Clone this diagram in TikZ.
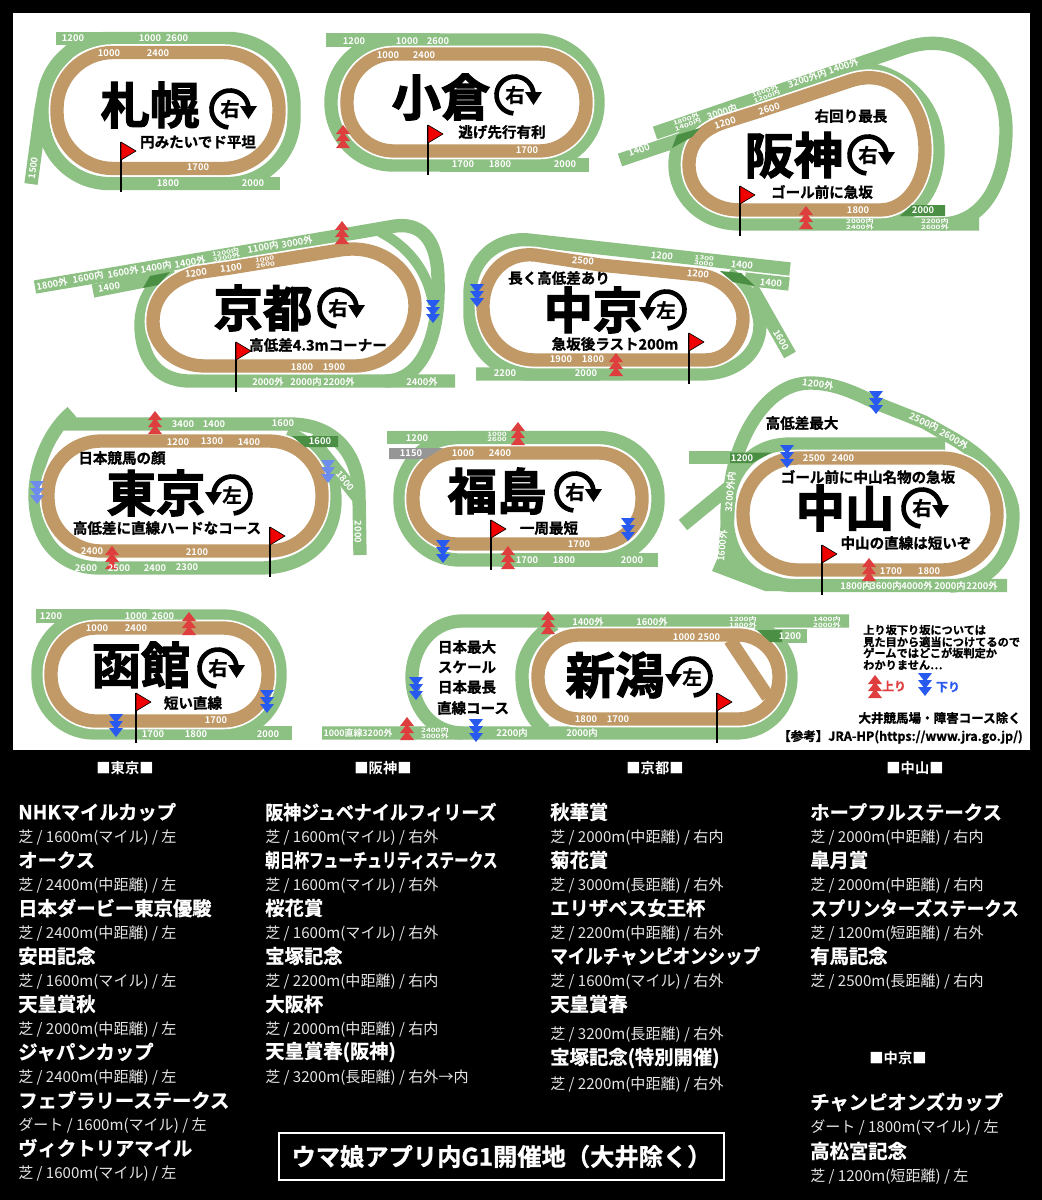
\documentclass[tikz,border=0pt]{standalone}
\usepackage{graphicx}
\usepackage{fontspec}
\setmainfont{Noto Sans CJK JP}[BoldFont=* Bold]
\newfontfamily\hv{Noto Sans CJK JP Bold}[FakeBold=2.4]
\newfontfamily\hb{Noto Sans CJK JP Bold}[FakeBold=1.0]
\definecolor{tg}{RGB}{141,192,131}
\definecolor{dk}{RGB}{74,143,68}
\definecolor{dc}{RGB}{192,153,102}
\definecolor{gy}{RGB}{150,150,150}
\definecolor{rd}{RGB}{222,62,62}
\definecolor{bl}{RGB}{40,90,240}
\definecolor{lb}{RGB}{110,140,235}
\definecolor{fr}{RGB}{240,0,0}
\tikzset{
 turf/.style={draw=tg,line width=10pt},
 turfn/.style={draw=tg,line width=7.5pt},
 dcase/.style={draw=white,line width=12.5pt},
 dband/.style={draw=dc,line width=10pt},
 lbl/.style={text=white,inner sep=0pt,font=\bfseries\fontsize{7}{7}\selectfont},
 tlb/.style={text=white,inner sep=0pt,align=center,font=\bfseries\fontsize{4.4}{4.2}\selectfont},
 bigt/.style={inner sep=0pt,font=\hv\fontsize{37}{37}\selectfont},
 subt/.style={inner sep=0pt,font=\hb\fontsize{10.9}{10.9}\selectfont},
 ctt/.style={anchor=west,text=white,inner sep=0pt,font=\hb\fontsize{14.5}{14.5}\selectfont},
 csb/.style={anchor=west,text=black!10,inner sep=0pt,font=\fontsize{11.3}{11.3}\selectfont},
 hdr/.style={text=white,inner sep=0pt,font=\bfseries\fontsize{10.7}{10.7}\selectfont},
}
\newcommand\rrect[6]{\draw[#1,rounded corners=#6*0.75pt] ({(#2+#4)/2},#3) -- (#4,#3) -- (#4,#5) -- (#2,#5) -- (#2,#3) -- cycle;}
\newcommand\drect[5]{\rrect{dcase}{#1}{#2}{#3}{#4}{#5}\rrect{dband}{#1}{#2}{#3}{#4}{#5}}
\newcommand\lab[4][0]{\node[lbl,rotate=#1] at (#2,#3) {#4};}
\newcommand\tinl[5][0]{\node[tlb,rotate=#1] at (#2,#3) {\scalebox{1.4}[1]{#4}\\\scalebox{1.4}[1]{#5}};}
\newcommand\um[3][rd]{\fill[#1] (#2,#3-11)--(#2+7,#3-2)--(#2-7,#3-2)--cycle (#2,#3-4)--(#2+7,#3+5)--(#2-7,#3+5)--cycle (#2,#3+3)--(#2+7,#3+12)--(#2-7,#3+12)--cycle;}
\newcommand\dm[3][bl]{\fill[#1] (#2,#3+11)--(#2+7,#3+2)--(#2-7,#3+2)--cycle (#2,#3+4)--(#2+7,#3-5)--(#2-7,#3-5)--cycle (#2,#3-3)--(#2+7,#3-12)--(#2-7,#3-12)--cycle;}
\newcommand\flagm[3]{\draw[black,line width=1.6pt] (#1,#2) -- (#1,#3);
 \draw[black,fill=fr,line width=0.5pt,line join=round] (#1,#2) -- (#1+15,#2+9) -- (#1,#2+18) -- cycle;}
\newcommand\turn[4]{\begin{scope}[shift={(#1,#2)},yscale=-1,xscale=#3]
 \draw[black,line width=3.5pt] (-95:18.5) arc[start angle=-95,end angle=-352,radius=18.5];
 \fill[black] (10,3) -- (27,3) -- (18.5,-10) -- cycle;
 \node[inner sep=0pt,font=\hb\fontsize{14.5}{14.5}\selectfont] at (0,0) {#4};
 \end{scope}}
\newcommand\ct[3]{\node[ctt] at (#1,#2) {#3};}
\newcommand\ctx[4]{\node[ctt] at (#1,#2) {\scalebox{#3}[1]{#4}};}
\newcommand\cs[3]{\node[csb] at (#1,#2+1.5) {#3};}
\newcommand\dpath[1]{\draw[dcase] #1; \draw[dband] #1;}
\begin{document}
\begin{tikzpicture}[x=0.75pt,y=-0.75pt]
\useasboundingbox (0,0) rectangle (1042,1200);
\fill[black] (0,0) rectangle (1042,1200);
\fill[white] (13,13) rectangle (1030,750);

% ---- Sapporo
\rrect{turf}{43}{38.5}{294}{183.5}{66}
\draw[turf] (56,38.5) -- (160,38.5);
\draw[turf] (150,183.5) -- (280,183.5);
\draw[turf] (31,184) -- (41,110) .. controls (46,80) and (58,60) .. (78,44);
\drect{57}{52.5}{279}{168.5}{56}
\node[bigt] at (150,105) {札幌};
\turn{230}{109}{1}{右}
\node[subt] at (198,142) {円みたいでド平坦};
\flagm{121}{142}{192}
\lab{73}{38}{1200}\lab{150}{38}{1000}\lab{177}{38}{2600}
\lab{109}{53}{1000}\lab{158}{53}{2400}
\lab{198}{167}{1700}\lab{168}{183}{1800}\lab{253}{183}{2000}
\lab[82]{33}{168}{1500}

% ---- Kokura
\rrect{turf}{331}{40}{598}{165}{62}
\draw[turf] (326,40) -- (440,40);
\draw[turf] (440,165) -- (589,165);
\drect{347}{54}{586}{151}{47}
\node[bigt] at (441,97) {小倉};
\turn{515}{95}{1}{右}
\node[subt] at (502,132) {逃げ先行有利};
\flagm{428}{125}{175}
\um{343}{136}
\lab{354}{41}{1200}\lab{407}{41}{1000}\lab{438}{41}{2600}
\lab{388}{55}{1000}\lab{424}{55}{2400}
\lab{527}{150}{1700}\lab{463}{164}{1700}\lab{500}{164}{1800}\lab{565}{164}{2000}

% ---- Hanshin
\draw[turf] (655,133) -- (905,48) .. controls (965,28) and (1006,75) .. (1006,130) .. controls (1006,180) and (985,224) .. (940,224);
\draw[turf] (979,224) -- (740,224) .. controls (700,224) and (675,195) .. (675,165) .. controls (675,145) and (685,130) .. (705,122);
\draw[turf] (620,160) -- (700,133);
\draw[turf] (860,68) .. controls (905,72) and (938,105) .. (938,150) .. controls (938,180) and (925,212) .. (890,220);
\dpath{(760,111) -- (850,81) .. controls (895,66) and (925,105) .. (925,150) .. controls (925,185) and (905,210) .. (880,210) -- (740,210) .. controls (710,210) and (689,190) .. (689,165) .. controls (689,145) and (700,130) .. (725,122) -- cycle}
\fill[dk] (672,148) -- (677,135) -- (700,128) -- (692,137) -- cycle;
\fill[dk] (912,205) -- (945,205) -- (945,216) -- (900,216) -- cycle;
\node[bigt] at (794,155) {阪神};
\turn{868}{155}{1}{右}
\node[subt] at (851,116) {右回り最長};
\node[subt] at (822,192) {ゴール前に急坂};
\flagm{740}{186}{236}
\um{806}{217}
\lab[18]{725}{123}{1200}\lab[18]{769}{109}{2600}
\lab[19]{639}{150}{1400}\lab[19]{722}{112}{3000内}
\tinl[19]{687}{122}{1800外}{1400内}\tinl[19]{766}{94}{1600外}{1200内}
\lab[19]{823}{73}{3200外内 1400外}
\lab{858}{210}{1800}\lab{923}{210}{2000}
\tinl{860}{224}{2000内}{2400外}\tinl{935}{224}{2200内}{2600外}

% ---- Kyoto
\draw[turf] (35,287) -- (337,236) -- (395,226) .. controls (425,222) and (438,245) .. (438,280) .. controls (440,340) and (420,381) .. (385,381);
\draw[turf] (455,381) -- (190,381) .. controls (155,381) and (141,355) .. (141,325) .. controls (141,300) and (155,280) .. (172,272);
\draw[turf] (93,291) -- (175,275);
\draw[turfn] (380,232) .. controls (415,250) and (430,280) .. (433,305);
\dpath{(230,268) -- (340,250) .. controls (385,243) and (415,275) .. (415,305) .. controls (415,340) and (385,366) .. (355,366) -- (205,366) .. controls (175,366) and (153,345) .. (153,322) .. controls (153,300) and (165,282) .. (195,273) -- cycle}
\fill[dk] (143,288) -- (158,285) -- (170,272) -- (150,276) -- cycle;
\node[bigt] at (263,308) {京都};
\turn{338}{308}{1}{右}
\node[subt] at (318,345) {高低差4.3mコーナー};
\flagm{236}{342}{392}
\um{342}{232}\dm{433}{312}
\lab[10]{52}{284}{1800外}\lab[10]{88}{277}{1600内}\lab[10]{123}{272}{1600外}\lab[10]{156}{267}{1400内}\lab[10]{190}{262}{1400外}
\tinl[10]{226}{255}{1200内}{3200外}\lab[10]{263}{247}{1100内}\lab[10]{297}{242}{3000外}
\lab[10]{109}{287}{1400}
\lab[8]{196}{273}{1200}\lab[8]{231}{268}{1100}\tinl[8]{265}{262}{1000}{2600}
\lab{302}{367}{1800}\lab{334}{367}{1900}
\lab{268}{382}{2000外}\lab{306}{382}{2000内}\lab{339}{382}{2200外}\lab{422}{382}{2400外}

% ---- Chukyo
\draw[turf,rounded corners=60*0.75pt] (790,269) -- (470,233.5) -- (470,374) -- (600,374);
\draw[turf] (476,374) -- (700,374) .. controls (740,374) and (760,350) .. (760,325) .. controls (760,310) and (750,290) .. (728,273);
\draw[turf] (790,355) -- (752,288);
\draw[turf] (745,279) -- (789,284);
\dpath{(600,265) -- (700,275) .. controls (725,278) and (743,300) .. (743,318) .. controls (743,340) and (728,360) .. (705,360) -- (535,360) .. controls (506,360) and (483,337) .. (483,307) .. controls (483,275) and (505,252) .. (535,255) -- cycle}
\fill[dk] (720,271) -- (741,273) -- (755,286) -- (733,282) -- cycle;
\node[bigt] at (593,310) {中京};
\turn{666}{310}{-1}{左}
\node[subt] at (559,278) {長く高低差あり};
\node[subt] at (615,344) {急坂後ラスト200m};
\flagm{689}{333}{384}
\dm{477}{296}\um{616}{364}
\lab[-6]{583}{261}{2500}\lab[-6]{662}{256}{1200}\tinl[-6]{704}{261}{1300}{3000}\lab[-6]{742}{265}{1400}
\lab[-6]{698}{274}{1200}\lab[-6]{771}{283}{1400}\lab[-60]{781}{340}{1600}
\lab{561}{359}{1900}\lab{593}{359}{1800}\lab{505}{373}{2200}\lab{586}{373}{2000}

% ---- Tokyo
\draw[turf] (72,412) .. controls (50,430) and (35,465) .. (35,495) .. controls (35,540) and (60,568) .. (100,568) -- (260,568) .. controls (300,568) and (335,545) .. (335,500) .. controls (335,470) and (318,445) .. (287,433);
\draw[turf] (64,424) -- (290,424) .. controls (335,424) and (359,455) .. (359,495) -- (360,555);
\draw[turf] (310,437) -- (360,500);
\drect{48}{441}{322}{551}{53}
\fill[dk] (292,436) -- (338,436) -- (338,447) -- (305,447) -- cycle;
\node[bigt] at (156,493) {東京};
\turn{232}{495}{-1}{左}
\node[subt] at (122,458) {日本競馬の顔};
\node[subt] at (167,528) {高低差に直線ハードなコース};
\flagm{270}{527}{577}
\um{155}{422}\um{112}{557}
\dm[lb]{37}{493}\dm[lb]{328}{472}
\lab{183}{424}{3400}\lab{214}{424}{1400}\lab{283}{423}{1600}
\lab{178}{442}{1200}\lab{212}{441}{1300}\lab{249}{442}{1400}\lab{320}{441}{1600}
\lab[-50]{345}{481}{1800}\lab[-90]{358}{532}{2000}
\lab{92}{551}{2400}\lab{197}{552}{2100}
\lab{86}{568}{2600}\lab{119}{568}{2500}\lab{155}{568}{2400}\lab{187}{567}{2300}

% ---- Fukushima
\rrect{turf}{400}{437.5}{658}{560}{60}
\draw[turf] (387,437.5) -- (480,437.5);
\draw[turf] (500,560) -- (658,560);
\drect{413}{453}{642}{544}{44}
\fill[gy] (389,448) -- (443,448) -- (425,459) -- (389,459) -- cycle;
\node[bigt] at (497,491) {福島};
\turn{575}{492}{1}{右}
\node[subt] at (549,528) {一周最短};
\flagm{491}{520}{570}
\um{518}{433}\um{508}{557}\dm{443}{552}\dm{628}{530}
\lab{417}{438}{1200}\lab{411}{453}{1150}\tinl{497}{437}{1000}{2600}
\lab{463}{453}{1000}\lab{500}{453}{2400}\lab{579}{544}{1700}
\lab{527}{560}{1700}\lab{564}{560}{1800}\lab{632}{560}{2000}

% ---- Nakayama
\fill[tg] (712,571) -- (722,548) -- (740,565) -- (790,580) -- (790,591) -- (765,591) -- cycle;
\draw[turf] (724,565) -- (730,490) .. controls (735,440) and (765,383) .. (810,383) .. controls (835,383) and (855,393) .. (876,403) -- (924,422) -- (954,439) .. controls (990,460) and (1013,490) .. (1013,515) .. controls (1013,560) and (985,585) .. (950,586);
\draw[turf] (945,444) -- (790,444) .. controls (750,444) and (727,475) .. (727,515) .. controls (727,555) and (750,585.5) .. (795,585.5) -- (1007,585.5);
\draw[turf] (683,525) -- (728,488);
\draw[turf] (689,457.5) -- (735,457.5);
\drect{743}{458}{997}{570}{55}
\fill[dk] (730,452.5) -- (772,452.5) -- (752,463) -- (730,463) -- cycle;
\node[bigt] at (845,508) {中山};
\turn{922}{508}{1}{右}
\node[subt] at (802,423) {高低差最大};
\node[subt] at (868,477) {ゴール前に中山名物の急坂};
\node[subt] at (906,543) {中山の直線は短いぞ};
\flagm{822}{545}{595}
\um{869}{569}\dm{876}{403}\dm{787}{457}
\lab[-8]{818}{384}{1200外}\lab[-25]{924}{422}{2500内}\lab[-30]{954}{439}{2600外}
\lab[85]{730}{492}{3200外内}\lab[85]{722}{546}{1600外}
\lab{742}{458}{1200}\lab{814}{458}{2500}\lab{843}{458}{2400}
\lab{891}{571}{1700}\lab{929}{571}{1800}
\lab{856}{586}{1800内}\lab{886}{586}{3600内}\lab{917}{586}{4000外}\lab{950}{586}{2000内}\lab{982}{586}{2200外}

% ---- Hakodate
\rrect{turf}{38}{616}{280}{733}{56}
\draw[turf] (36,616) -- (150,616);
\draw[turf] (150,733) -- (292,733);
\drect{51}{628}{268}{721}{45}
\node[bigt] at (141,665) {函館};
\turn{218}{668}{1}{右}
\node[subt] at (193,703) {短い直線};
\flagm{136}{693}{743}
\um{189}{623}\dm{116}{726}\dm{267}{702}
\lab{51}{616}{1200}\lab{136}{616}{1000}\lab{163}{616}{2600}
\lab{97}{628}{1000}\lab{136}{628}{2400}
\lab{216}{720}{1700}\lab{153}{734}{1700}\lab{196}{734}{1800}\lab{268}{734}{2000}

% ---- Niigata
\draw[turf] (849,621) -- (463,621) .. controls (430,621) and (412,650) .. (412,677) .. controls (412,705) and (430,733) .. (463,733);
\draw[turf] (322,733) -- (735,733) .. controls (770,733) and (791,705) .. (791,677) .. controls (791,655) and (778,635) .. (757,625);
\draw[turf] (555,624) .. controls (535,635) and (522,655) .. (522,675) .. controls (522,700) and (530,718) .. (545,730);
\draw[turf] (757,636) -- (807,636);
\drect{538}{635}{779}{719}{41}
\draw[dband] (730,640) -- (768,697);
\fill[dk] (757,630) -- (782,630) -- (782,642) -- (770,642) -- cycle;
\node[bigt] at (615,675) {新潟};
\turn{692}{677}{-1}{左}
\node[subt] at (467,647) {日本最大};
\node[subt] at (467,667) {スケール};
\node[subt] at (467,687) {日本最長};
\node[subt] at (473,708) {直線コース};
\flagm{717}{693}{743}
\um{548}{622}\um{407}{728}\dm{416}{689}\dm{476}{731}
\lab{588}{622}{1400外}\lab{652}{622}{1600外}\tinl{743}{622}{1200内}{1800外}\tinl{827}{622}{1400内}{2000外}
\lab{790}{636}{1200}\lab{684}{637}{1000}\lab{709}{637}{2500}
\lab{586}{719}{1800}\lab{618}{719}{1700}
\node[lbl,font=\bfseries\fontsize{6.7}{6.7}\selectfont] at (358,733) {1000直線3200外};
\tinl{435}{733}{2400内}{3000外}\lab{512}{733}{2200内}\lab{582}{733}{2000内}

% ---- Legend
\begin{scope}[every node/.style={anchor=west,inner sep=0pt,font=\hb\fontsize{8.4}{8.4}\selectfont}]
\node at (863,630) {上り坂下り坂については};
\node at (863,642) {見た目から適当につけてるので};
\node at (863,653) {ゲームではどこが坂判定か};
\node at (863,665) {わかりません…};
\end{scope}
\um{875}{686}\dm{925}{685}
\node[inner sep=0pt,text=rd,font=\hb\fontsize{9}{9}\selectfont] at (894,686) {上り};
\node[inner sep=0pt,text=bl,font=\hb\fontsize{9}{9}\selectfont] at (948,687) {下り};
\node[anchor=east,inner sep=0pt,font=\hb\fontsize{9.4}{9.4}\selectfont] at (1021,718) {大井競馬場・障害コース除く};
\node[anchor=east,inner sep=0pt,font=\hb\fontsize{9.4}{9.4}\selectfont] at (1023,737) {【参考】JRA-HP(https://www.jra.go.jp/)};

% ---- Lists
\node[hdr] at (125,768) {■東京■};
\node[hdr] at (383,768) {■阪神■};
\node[hdr] at (655,768) {■京都■};
\node[hdr] at (915,768) {■中山■};
\node[hdr] at (898,1058) {■中京■};

\ct{18}{812}{NHKマイルカップ}\cs{18}{836}{芝 / 1600m(マイル) / 左}
\ct{18}{860}{オークス}\cs{18}{884}{芝 / 2400m(中距離) / 左}
\ct{18}{908}{日本ダービー東京優駿}\cs{18}{932}{芝 / 2400m(中距離) / 左}
\ct{18}{956}{安田記念}\cs{18}{980}{芝 / 1600m(マイル) / 左}
\ct{18}{1004}{天皇賞秋}\cs{18}{1028}{芝 / 2000m(中距離) / 左}
\ct{18}{1052}{ジャパンカップ}\cs{18}{1076}{芝 / 2400m(中距離) / 左}
\ct{18}{1100}{フェブラリーステークス}\cs{18}{1124}{ダート / 1600m(マイル) / 左}
\ct{18}{1148}{ヴィクトリアマイル}\cs{18}{1172}{芝 / 1600m(マイル) / 左}

\ctx{265}{812}{0.93}{阪神ジュベナイルフィリーズ}\cs{265}{836}{芝 / 1600m(マイル) / 右外}
\ctx{265}{860}{0.755}{朝日杯フューチュリティステークス}\cs{265}{884}{芝 / 1600m(マイル) / 右外}
\ct{265}{908}{桜花賞}\cs{265}{932}{芝 / 1600m(マイル) / 右外}
\ct{265}{956}{宝塚記念}\cs{265}{980}{芝 / 2200m(中距離) / 右内}
\ct{265}{1004}{大阪杯}\cs{265}{1028}{芝 / 2000m(中距離) / 右内}
\ct{265}{1052}{天皇賞春(阪神)}\cs{265}{1076}{芝 / 3200m(長距離) / 右外→内}

\ct{550}{812}{秋華賞}\cs{550}{836}{芝 / 2000m(中距離) / 右内}
\ct{550}{860}{菊花賞}\cs{550}{884}{芝 / 3000m(長距離) / 右外}
\ct{550}{908}{エリザベス女王杯}\cs{550}{932}{芝 / 2200m(中距離) / 右外}
\ctx{550}{956}{0.905}{マイルチャンピオンシップ}\cs{550}{980}{芝 / 1600m(マイル) / 右外}
\ct{550}{1004}{天皇賞春}\cs{550}{1033}{芝 / 3200m(長距離) / 右外}
\ct{550}{1058}{宝塚記念(特別開催)}\cs{550}{1083}{芝 / 2200m(中距離) / 右外}

\ct{810}{812}{ホープフルステークス}\cs{810}{836}{芝 / 2000m(中距離) / 右内}
\ct{810}{860}{皐月賞}\cs{810}{884}{芝 / 2000m(中距離) / 右内}
\ctx{810}{908}{0.905}{スプリンターズステークス}\cs{810}{932}{芝 / 1200m(短距離) / 右外}
\ct{810}{956}{有馬記念}\cs{810}{980}{芝 / 2500m(長距離) / 右内}
\ct{810}{1102}{チャンピオンズカップ}\cs{810}{1126}{ダート / 1800m(マイル) / 左}
\ct{810}{1151}{高松宮記念}\cs{810}{1175}{芝 / 1200m(短距離) / 左}

\node[draw=white,line width=0.9pt,minimum width=333.75pt,minimum height=35.25pt,inner sep=0pt,text=white,font=\hb\fontsize{18.2}{18.2}\selectfont] (boxt) at (501.5,1156.5) {ウマ娘アプリ内G1開催地（大井除く）};
\end{tikzpicture}
\end{document}
